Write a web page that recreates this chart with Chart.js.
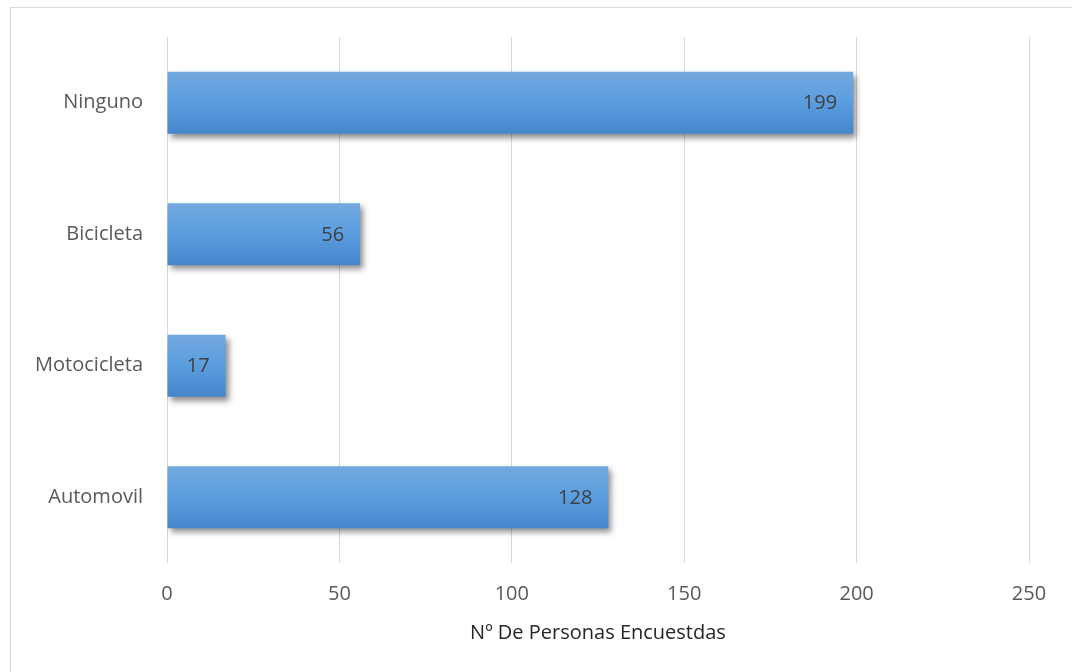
<!DOCTYPE html>
<html>
<head>
<meta charset="utf-8">
<script src="https://cdn.jsdelivr.net/npm/chart.js@4"></script>
<style>
  html, body { margin: 0; padding: 0; background: #fff; }
  #wrap { width: 1072px; height: 672px; }
</style>
</head>
<body>
<div id="wrap"><canvas id="chart"></canvas></div>
<script>
// Data
const categories = ['Ninguno', 'Bicicleta', 'Motocicleta', 'Automovil'];
const values = [199, 56, 17, 128];
const axisTitle = 'Nº De Personas Encuestdas';

const fontFamily = '"Open Sans", "Noto Sans", sans-serif';
const barPct = 0.47;

// vertical gradient for one bar, built from the y scale
function barGradient(context) {
    const chart = context.chart;
    const y = chart.scales.y;
    if (!y || !chart.chartArea) return '#5b9bd5';
    const center = y.getPixelForValue(context.dataIndex);
    const half = (y.height / categories.length) * barPct / 2;
    const g = chart.ctx.createLinearGradient(0, center - half, 0, center + half);
    g.addColorStop(0, '#72a9de');
    g.addColorStop(0.5, '#5a9ddf');
    g.addColorStop(1, '#4686cb');
    return g;
}

// frame around the chart + shadow for the bars
const barStyle = {
    id: 'barStyle',
    beforeDraw(chart) {
        const ctx = chart.ctx;
        ctx.save();
        ctx.fillStyle = '#fff';
        ctx.fillRect(0, 0, chart.width, chart.height);
        ctx.strokeStyle = '#d9d9d9';
        ctx.lineWidth = 1;
        ctx.strokeRect(10.5, 7.5, 1100, 700);
        ctx.restore();
    },
    beforeDatasetsDraw(chart) {
        const ctx = chart.ctx;
        ctx.save();
        ctx.shadowColor = 'rgba(0,0,0,0.45)';
        ctx.shadowBlur = 6;
        ctx.shadowOffsetX = 3;
        ctx.shadowOffsetY = 4;
    },
    afterDatasetsDraw(chart) {
        chart.ctx.restore();
    }
};

// value labels inside the end of each bar
const valueLabels = {
    id: 'valueLabels',
    afterDatasetsDraw(chart) {
        const ctx = chart.ctx;
        const meta = chart.getDatasetMeta(0);
        ctx.save();
        ctx.font = '20px ' + fontFamily;
        ctx.fillStyle = '#404040';
        ctx.textAlign = 'right';
        ctx.textBaseline = 'middle';
        meta.data.forEach((bar, i) => {
            ctx.fillText(values[i], bar.x - 16, bar.y + 1);
        });
        ctx.restore();
    }
};

const ctx = document.getElementById('chart').getContext('2d');

new Chart(ctx, {
    type: 'bar',
    data: {
        labels: categories,
        datasets: [{
            data: values,
            backgroundColor: barGradient,
            borderWidth: 0,
            barPercentage: barPct,
            categoryPercentage: 1.0
        }]
    },
    options: {
        indexAxis: 'y',
        responsive: true,
        maintainAspectRatio: false,
        animation: false,
        layout: {
            padding: { left: 0, top: 37, right: 43, bottom: 0 }
        },
        plugins: {
            legend: { display: false },
            tooltip: { enabled: false }
        },
        scales: {
            x: {
                min: 0,
                max: 250,
                ticks: {
                    stepSize: 50,
                    color: '#595959',
                    padding: 19,
                    font: { size: 20, family: fontFamily }
                },
                grid: {
                    color: '#d9d9d9',
                    lineWidth: 1,
                    drawTicks: false
                },
                border: { display: false },
                title: {
                    display: true,
                    text: axisTitle,
                    color: '#262626',
                    padding: { top: 0, bottom: 27 },
                    font: { size: 20, family: fontFamily }
                },
                afterFit(scale) { scale.height = 109; }
            },
            y: {
                ticks: {
                    color: '#595959',
                    padding: 16,
                    font: { size: 20, family: fontFamily }
                },
                grid: { display: false },
                border: { display: false },
                afterFit(scale) { scale.width = 167; }
            }
        }
    },
    plugins: [barStyle, valueLabels]
});
</script>
</body>
</html>
